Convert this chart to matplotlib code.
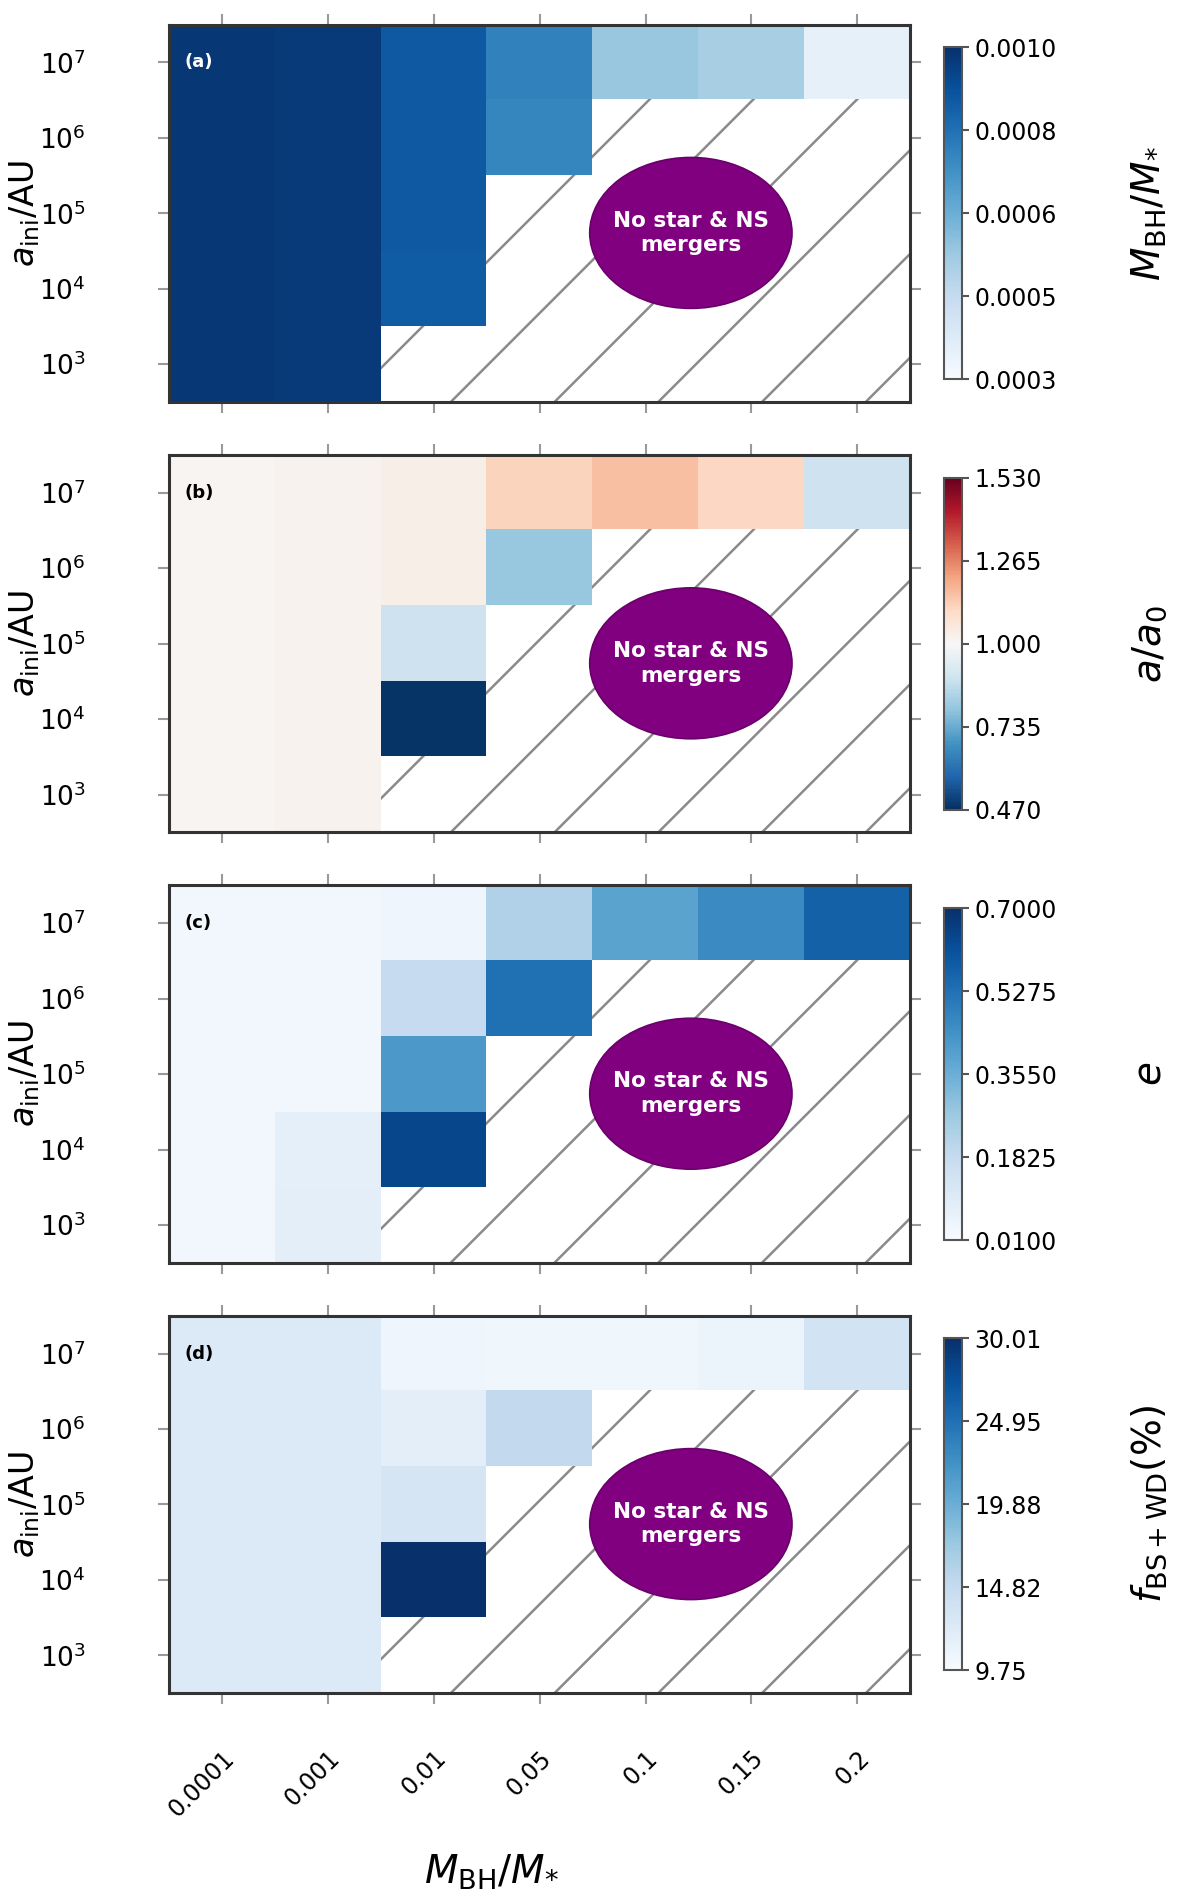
import numpy as np
import matplotlib
matplotlib.use("Agg")
import matplotlib.pyplot as plt
from matplotlib.patches import Ellipse

# ── data (rows: top -> bottom, cols: left -> right)
mass_ratio = ["0.0001", "0.001", "0.01", "0.05", "0.1", "0.15", "0.2"]
radius_labels = [r"$10^7$", r"$10^6$", r"$10^5$", r"$10^4$", r"$10^3$"]
nan = np.nan

bh_mass = [
    [0.00098, 0.00097, 0.00089, 0.00078, 0.00057, 0.00054, 0.00036],
    [0.00098, 0.00097, 0.00089, 0.00077, nan, nan, nan],
    [0.00098, 0.00097, 0.00089, nan, nan, nan, nan],
    [0.00098, 0.00097, 0.00088, nan, nan, nan, nan],
    [0.00098, 0.00097, nan, nan, nan, nan, nan],
]
semi_ratio = [
    [1.01, 1.02, 1.03, 1.12, 1.16, 1.11, 0.89],
    [1.01, 1.02, 1.03, 0.80, nan, nan, nan],
    [1.01, 1.02, 0.89, nan, nan, nan, nan],
    [1.01, 1.02, 0.48, nan, nan, nan, nan],
    [1.01, 1.02, nan, nan, nan, nan, nan],
]
ecc = [
    [0.03, 0.03, 0.04, 0.23, 0.39, 0.46, 0.57],
    [0.03, 0.03, 0.18, 0.53, nan, nan, nan],
    [0.03, 0.03, 0.42, nan, nan, nan, nan],
    [0.03, 0.07, 0.64, nan, nan, nan, nan],
    [0.03, 0.08, nan, nan, nan, nan, nan],
]
frac_merge = [
    [12.5, 12.5, 10.6, 10.5, 10.5, 10.8, 13.5],
    [12.5, 12.5, 11.8, 15.0, nan, nan, nan],
    [12.5, 12.5, 13.2, nan, nan, nan, nan],
    [12.5, 12.5, 30.0, nan, nan, nan, nan],
    [12.5, 12.5, nan, nan, nan, nan, nan],
]

cb_ticks_a = ["0.0003", "0.0005", "0.0006", "0.0008", "0.0010"]
cb_ticks_b = ["0.470", "0.735", "1.000", "1.265", "1.530"]
cb_ticks_c = ["0.0100", "0.1825", "0.3550", "0.5275", "0.7000"]
cb_ticks_d = ["9.75", "14.82", "19.88", "24.95", "30.01"]

panels = [
    ("(a)", bh_mass, "Blues", 0.0003, 0.0010, cb_ticks_a, r"$M_{\rm BH}/M_{*}$", "white"),
    ("(b)", semi_ratio, "RdBu_r", 0.47, 1.53, cb_ticks_b, r"$a/a_0$", "black"),
    ("(c)", ecc, "Blues", 0.01, 0.70, cb_ticks_c, r"$e$", "black"),
    ("(d)", frac_merge, "Blues", 9.75, 30.01, cb_ticks_d, r"$f_{\rm BS+WD}(\%)$", "black"),
]

fig = plt.figure(figsize=(12, 18.96), dpi=100)
bottoms = [0.788, 0.561, 0.334, 0.107]
ax_left, ax_w, ax_h = 0.141, 0.6175, 0.199

for i, (tag, vals, cmap, vmin, vmax, cb_lab, cb_name, tag_col) in enumerate(panels):
    ax = fig.add_axes([ax_left, bottoms[i], ax_w, ax_h])
    data = np.array(vals, dtype=float)

    # diagonal hatch under the empty cells
    k = 1.0 * (ax_w * 1200) / (ax_h * 1896)
    for x0 in np.arange(-1.3, 1.2, 0.14):
        ax.plot([x0, x0 + 1.0 / k], [0, 1], transform=ax.transAxes,
                color="#8a8a8a", lw=1.8, zorder=1, clip_on=True)

    im = ax.imshow(data, cmap=cmap, vmin=vmin, vmax=vmax, aspect="auto",
                   interpolation="nearest", zorder=2,
                   extent=[-0.5, 6.5, 4.5, -0.5])
    ax.set_xlim(-0.5, 6.5)
    ax.set_ylim(4.5, -0.5)

    ell = Ellipse((0.704, 0.448), 0.273, 0.40, transform=ax.transAxes,
                  facecolor="#800080", edgecolor="#6a006a", lw=1.2, zorder=3)
    ax.add_patch(ell)
    ax.text(0.704, 0.448, "No star & NS\nmergers", transform=ax.transAxes,
            ha="center", va="center", color="white", fontsize=15.5,
            fontweight="bold", zorder=4, linespacing=1.3)

    ax.text(0.02, 0.90, tag, transform=ax.transAxes, color=tag_col,
            fontsize=13, fontweight="bold", va="center", zorder=5)

    ax.set_yticks(range(5))
    ax.set_yticklabels(radius_labels, fontsize=19)
    ax.set_xticks(range(7))
    if i == 3:
        ax.set_xticklabels(mass_ratio, fontsize=17, rotation=45,
                           ha="right", rotation_mode="anchor")
    else:
        ax.set_xticklabels([])
    ax.tick_params(top=True, right=True, direction="out", length=8,
                   width=1.5, color="#999999")
    ax.tick_params(axis="y", pad=52)
    ax.tick_params(axis="x", pad=30)
    for s in ax.spines.values():
        s.set_color("#333333")
        s.set_linewidth(2.2)
    ax.set_ylabel(r"$a_{\rm ini}/{\rm AU}$", fontsize=24)
    ax.yaxis.set_label_coords(-0.172, 0.5)

    cax = fig.add_axes([0.787, bottoms[i] + 0.06 * ax_h, 0.015, 0.88 * ax_h])
    cb = fig.colorbar(im, cax=cax)
    cb.set_ticks(np.linspace(vmin, vmax, 5))
    cb.set_ticklabels(cb_lab)
    cb.ax.tick_params(labelsize=17, length=5, width=1.5, color="#555555")
    cb.outline.set_edgecolor("#555555")
    cb.outline.set_linewidth(1.5)
    cb.ax.text(11.4, 0.5, cb_name, transform=cb.ax.transAxes, rotation=90,
               ha="center", va="center", fontsize=28)

fig.text(0.41, 0.002, r"$M_{\rm BH}/M_{*}$", ha="center", va="bottom", fontsize=28)

fig.savefig("out.png", dpi=100)
